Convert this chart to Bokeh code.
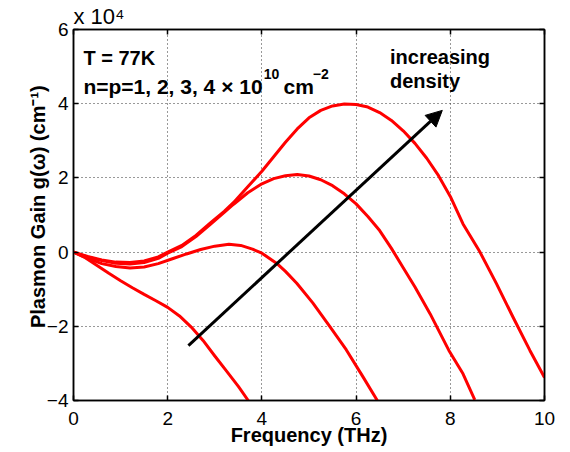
from bokeh.plotting import figure
from bokeh.models import LinearAxis, FixedTicker, Arrow, NormalHead, Label, Range1d
from bokeh.embed import file_html
from bokeh.resources import INLINE

# Frequency (THz) and plasmon gain (units of 10^4 cm^-1)
freq_n1 = [0, 0.25, 0.5, 0.75, 1.0, 1.25, 1.5, 1.75, 2.0, 2.25, 2.5, 2.75, 3.0,
           3.25, 3.5, 3.71]
gain_n1 = [0, -0.15, -0.36, -0.57, -0.77, -0.96, -1.14, -1.31, -1.49, -1.72, -2.02,
           -2.38, -2.8, -3.21, -3.62, -4.0]

freq_n2 = [0, 0.3, 0.6, 0.9, 1.2, 1.5, 1.8, 2.1, 2.4, 2.7, 3.0, 3.3, 3.55, 3.8, 4.0,
           4.31, 4.5, 4.74, 5.08, 5.44, 5.79, 6.14, 6.45]
gain_n2 = [0, -0.17, -0.31, -0.39, -0.43, -0.4, -0.31, -0.18, -0.05, 0.07, 0.16, 0.21,
           0.18, 0.08, -0.03, -0.3, -0.52, -0.84, -1.37, -2.0, -2.63, -3.35, -4.0]

freq_n3 = [0, 0.3, 0.6, 0.9, 1.2, 1.5, 1.8, 2.0, 2.3, 2.6, 2.9, 3.2, 3.4, 3.7, 4.0,
           4.25, 4.5, 4.75, 5.0, 5.25, 5.5, 5.75, 6.0, 6.25, 6.5, 6.75, 7.0, 7.25,
           7.57, 7.97, 8.27, 8.52]
gain_n3 = [0, -0.13, -0.23, -0.3, -0.32, -0.28, -0.17, -0.03, 0.15, 0.42, 0.74, 1.07,
           1.29, 1.6, 1.84, 1.98, 2.06, 2.09, 2.05, 1.95, 1.79, 1.57, 1.3, 0.96, 0.58,
           0.1, -0.42, -0.94, -1.66, -2.65, -3.28, -3.98]

freq_n4 = [0, 0.3, 0.6, 0.9, 1.2, 1.5, 1.8, 2.0, 2.3, 2.6, 2.9, 3.2, 3.4, 3.7, 4.0,
           4.25, 4.5, 4.75, 5.0, 5.25, 5.5, 5.75, 6.0, 6.25, 6.5, 6.75, 7.0, 7.25,
           7.5, 7.75, 8.0, 8.27, 8.63, 8.98, 9.33, 9.69, 10.0]
gain_n4 = [0, -0.12, -0.21, -0.27, -0.28, -0.24, -0.13, 0.0, 0.18, 0.45, 0.78, 1.1,
           1.34, 1.76, 2.18, 2.57, 2.96, 3.32, 3.62, 3.82, 3.94, 3.99, 3.98, 3.91,
           3.76, 3.55, 3.27, 2.93, 2.53, 2.06, 1.5, 0.76, 0.0, -0.85, -1.75, -2.65,
           -3.38]

x_ticks = [0, 2, 4, 6, 8, 10]
y_ticks = [-4, -2, 0, 2, 4, 6]
y_tick_labels = {-4: "\u22124", -2: "\u22122", 0: "0", 2: "2", 4: "4", 6: "6"}

arrow_start = (2.44, -2.52)
arrow_end = (7.83, 3.82)

FONT = "Liberation Sans"

p = figure(width=570, height=452, x_range=Range1d(0, 10), y_range=Range1d(-4, 6),
           output_backend="svg", toolbar_location=None,
           min_border_left=73, min_border_right=26, min_border_top=29, min_border_bottom=52,
           x_axis_label="Frequency (THz)",
           y_axis_label="\u00a0\u00a0\u00a0Plasmon Gain g(\u03c9) (cm\u207b\u00b9)")
p.background_fill_color = "white"
p.border_fill_color = "white"
p.outline_line_color = "black"
p.outline_line_width = 1.5

p.title.text = "x 10\u2074"
p.title.align = "left"
p.title.text_font = FONT
p.title.text_font_size = "22px"
p.title.text_font_style = "normal"
p.title.text_color = "black"
p.title.standoff = 2
p.title.offset = 0

top_ax = LinearAxis()
right_ax = LinearAxis()
p.add_layout(right_ax, "right")
p.add_layout(top_ax, "above")

for ax in p.xaxis:
    ax.ticker = FixedTicker(ticks=x_ticks)
for ax in p.yaxis:
    ax.ticker = FixedTicker(ticks=y_ticks)
    ax.major_label_overrides = y_tick_labels

for ax in p.axis:
    ax.axis_line_color = "black"
    ax.axis_line_width = 1.5
    ax.major_tick_line_color = "black"
    ax.major_tick_line_width = 1.5
    ax.major_tick_in = 5
    ax.major_tick_out = 0
    ax.minor_tick_line_color = None
    ax.major_label_text_font = FONT
    ax.major_label_text_font_size = "19px"
    ax.major_label_text_color = "black"
    ax.axis_label_text_font = FONT
    ax.axis_label_text_font_size = "20px"
    ax.axis_label_text_font_style = "bold"
    ax.axis_label_text_color = "black"

p.below[0].major_label_standoff = 11
p.below[0].axis_label_standoff = -4
p.left[0].major_label_standoff = 5
p.left[0].axis_label_standoff = -5

# top/right axes carry only the inward ticks
for ax, ticks in ((top_ax, x_ticks), (right_ax, y_ticks)):
    ax.major_label_overrides = {t: "" for t in ticks}
    ax.major_label_standoff = 0
    ax.axis_label = None

p.xgrid.ticker = FixedTicker(ticks=x_ticks)
p.ygrid.ticker = FixedTicker(ticks=y_ticks)
for g in (p.xgrid[0], p.ygrid[0]):
    g.grid_line_color = "#333333"
    g.grid_line_dash = "1 3"
    g.grid_line_width = 1

for fx, gy in ((freq_n1, gain_n1), (freq_n2, gain_n2), (freq_n3, gain_n3), (freq_n4, gain_n4)):
    p.line(fx, gy, line_color="#ff0000", line_width=3, line_join="round")

p.add_layout(Arrow(end=NormalHead(size=16, fill_color="black", line_color="black"),
                   x_start=arrow_start[0], y_start=arrow_start[1],
                   x_end=arrow_end[0], y_end=arrow_end[1],
                   line_color="black", line_width=3))


def lab(x, y, text, size, bold=True):
    p.add_layout(Label(x=x, y=y, text=text, text_font=FONT, text_font_size=size,
                       text_font_style="bold" if bold else "normal", text_color="black",
                       text_baseline="alphabetic", text_align="left"))


lab(0.21, 5.22, "T = 77K", "20px")
lab(0.21, 4.46, "n=p=1, 2, 3, 4 \u00d7 10", "21px")
lab(4.04, 4.81, "10", "14px")
lab(4.46, 4.46, "cm", "21px")
lab(5.08, 4.81, "\u22122", "14px")
lab(6.72, 5.27, "increasing", "20px")
lab(6.72, 4.6, "density", "20px")

open("out.html", "w").write(file_html(p, INLINE))
